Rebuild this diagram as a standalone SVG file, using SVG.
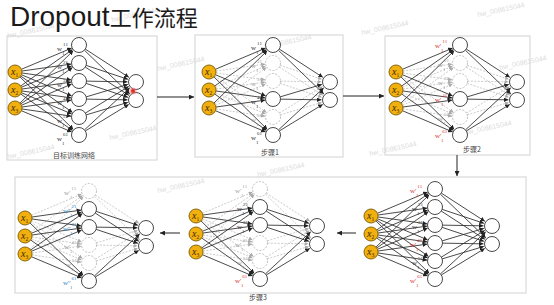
<svg xmlns="http://www.w3.org/2000/svg" xmlns:xlink="http://www.w3.org/1999/xlink" width="554" height="305" viewBox="0 0 554 305">
<style>
.title{font-family:"Liberation Sans","Noto Sans CJK SC",sans-serif;fill:#1a1a1a}
.panel{fill:none;stroke:#d2d2d2;stroke-width:1}
.cap{font-family:"Noto Sans CJK SC","Noto Sans",sans-serif;font-size:7px;fill:#444;text-anchor:middle}
.on{stroke:#2a2a2a;stroke-width:.85;marker-end:url(#ah)}
.off{stroke:#b4b4b4;stroke-width:.7;stroke-dasharray:2 1.4;marker-end:url(#ahg)}
.in circle{fill:#F2B00F;stroke:#7a5a00;stroke-width:.9}
.xl{font-family:"Liberation Serif",serif;font-style:italic;font-size:10px;fill:#3a2800}
.xs{font-size:5.5px;font-style:normal}
.hon circle,.out circle{fill:#fff;stroke:#333;stroke-width:.9}
.hoff circle{fill:#fff;stroke:#b0b0b0;stroke-width:.8;stroke-dasharray:2 1.4}
.wl{font-family:"Liberation Serif",serif;font-size:7px}
.s{font-size:5px}
.dk{fill:#333}.gy{fill:#a0a0a0}.rd{fill:#d8322c}.bl{fill:#2f86c8}
.flow{stroke:#222;stroke-width:1;fill:none;marker-end:url(#ah2)}
.wm{font-family:"Liberation Sans",sans-serif;font-size:7px;fill:#dcdcdc}
</style>
<defs>
<marker id="ah" viewBox="0 0 6 6" refX="6" refY="3" markerWidth="4.5" markerHeight="4.5" markerUnits="userSpaceOnUse" orient="auto"><path d="M0,0 L6,3 L0,6 z" fill="#222"/></marker>
<marker id="ahg" viewBox="0 0 6 6" refX="6" refY="3" markerWidth="4" markerHeight="4" markerUnits="userSpaceOnUse" orient="auto"><path d="M0,0 L6,3 L0,6 z" fill="#aaa"/></marker>
<marker id="ah2" viewBox="0 0 6 6" refX="6" refY="3" markerWidth="5" markerHeight="5" markerUnits="userSpaceOnUse" orient="auto"><path d="M0,0 L6,3 L0,6 z" fill="#222"/></marker>
<g id="in1"><line x1="6.45" y1="-2.72" x2="56.63" y2="-23.89"/><line x1="5.73" y1="13.97" x2="57.46" y2="-22.4"/><line x1="4.99" y1="31.09" x2="58.3" y2="-21.39"/></g>
<g id="in2"><line x1="6.93" y1="-0.97" x2="56.08" y2="-7.89"/><line x1="6.45" y1="15.28" x2="56.63" y2="-5.89"/><line x1="5.73" y1="31.97" x2="57.46" y2="-4.4"/></g>
<g id="in3"><line x1="6.93" y1="0.97" x2="56.08" y2="7.89"/><line x1="6.93" y1="17.03" x2="56.08" y2="10.11"/><line x1="6.45" y1="33.28" x2="56.63" y2="12.11"/></g>
<g id="in4"><line x1="6.45" y1="2.72" x2="56.63" y2="23.89"/><line x1="6.93" y1="18.97" x2="56.08" y2="25.89"/><line x1="6.93" y1="35.03" x2="56.08" y2="28.11"/></g>
<g id="in5"><line x1="5.73" y1="4.03" x2="57.46" y2="40.4"/><line x1="6.45" y1="20.72" x2="56.63" y2="41.89"/><line x1="6.93" y1="36.97" x2="56.08" y2="44.11"/></g>
<g id="in6"><line x1="4.99" y1="4.91" x2="58.3" y2="57.39"/><line x1="5.73" y1="22.03" x2="57.46" y2="58.4"/><line x1="6.45" y1="38.72" x2="56.63" y2="59.89"/></g>
<g id="out1"><line x1="70.29" y1="-22.92" x2="113.87" y2="5.37"/><line x1="69.4" y1="-21.79" x2="114.88" y2="22.1"/></g>
<g id="out2"><line x1="71.12" y1="-6.63" x2="112.93" y2="7.31"/><line x1="70.29" y1="-4.92" x2="113.87" y2="23.37"/></g>
<g id="out3"><line x1="71.5" y1="9.13" x2="112.5" y2="9.85"/><line x1="71.12" y1="11.37" x2="112.93" y2="25.31"/></g>
<g id="out4"><line x1="71.19" y1="24.86" x2="112.86" y2="12.43"/><line x1="71.5" y1="27.13" x2="112.5" y2="27.85"/></g>
<g id="out5"><line x1="70.39" y1="41.08" x2="113.76" y2="14.45"/><line x1="71.19" y1="42.86" x2="112.86" y2="30.43"/></g>
<g id="out6"><line x1="69.49" y1="57.89" x2="114.78" y2="15.79"/><line x1="70.39" y1="58.92" x2="113.76" y2="32.45"/></g>
</defs>
<rect width="554" height="305" fill="#fff"/>

<g id="watermarks" class="wm">
<text transform="translate(112,22) rotate(-12)">hw_008615044</text>
<text transform="translate(8,38) rotate(-12)">hw_008615044</text>
<text transform="translate(158,71) rotate(-12)">hw_008615044</text>
<text transform="translate(110,140) rotate(-12)">hw_008615044</text>
<text transform="translate(8,159) rotate(-12)">hw_008615044</text>
<text transform="translate(265,49) rotate(-12)">hw_008615044</text>
<text transform="translate(362,35) rotate(-12)">hw_008615044</text>
<text transform="translate(478,17) rotate(-12)">hw_008615044</text>
<text transform="translate(500,70) rotate(-12)">hw_008615044</text>
<text transform="translate(465,135) rotate(-12)">hw_008615044</text>
<text transform="translate(370,156) rotate(-12)">hw_008615044</text>
<text transform="translate(158,193) rotate(-12)">hw_008615044</text>
<text transform="translate(258,177) rotate(-12)">hw_008615044</text>
</g>

<text class="title" x="10" y="25.5"><tspan font-size="28">Dropout</tspan><tspan font-size="22" font-family="Noto Sans CJK SC, sans-serif">工作流程</tspan></text>

<g id="frames">
<rect class="panel" x="7" y="36" width="150" height="124"/>
<rect class="panel" x="195" y="35" width="148" height="122"/>
<rect class="panel" x="385" y="36" width="145" height="119"/>
<rect class="panel" x="15" y="177" width="511" height="116"/>
<text class="cap" x="74" y="158">目标训练网络</text>
<text class="cap" x="270" y="155">步骤1</text>
<text class="cap" x="472" y="152">步骤2</text>
<text class="cap" x="258" y="300">步骤3</text>
</g>

<g id="flow-connectors">
<line class="flow" x1="157" y1="97" x2="194" y2="97"/>
<line class="flow" x1="343" y1="96" x2="384" y2="96"/>
<line class="flow" x1="457" y1="155" x2="457" y2="176"/>
<line class="flow" x1="356" y1="233" x2="337" y2="233"/>
<line class="flow" x1="180" y1="233" x2="160" y2="233"/>
</g>

<!-- Panel 1: target network -->
<g id="net-target" transform="translate(15,72)">
<g id="target-connectors">
<use href="#in1" class="on"/><use href="#in2" class="on"/><use href="#in3" class="on"/><use href="#in4" class="on"/><use href="#in5" class="on"/><use href="#in6" class="on"/>
<use href="#out1" class="on"/><use href="#out2" class="on"/><use href="#out3" class="on"/><use href="#out4" class="on"/><use href="#out5" class="on"/><use href="#out6" class="on"/>
</g>
<g id="target-x1" class="in"><circle r="7"/><text class="xl" x="-4" y="3">x<tspan class="xs" dy="1.8">1</tspan></text></g>
<g id="target-x2" class="in"><circle cy="18" r="7"/><text class="xl" x="-4" y="21">x<tspan class="xs" dy="1.8">2</tspan></text></g>
<g id="target-x3" class="in"><circle cy="36" r="7"/><text class="xl" x="-4" y="39">x<tspan class="xs" dy="1.8">3</tspan></text></g>
<g id="target-h1" class="hon"><circle cx="64" cy="-27" r="7.5"/><text class="wl dk" x="42" y="-21">w<tspan class="s" dx="1" dy="-5">11</tspan><tspan class="s" x="47" dy="9">1</tspan></text></g>
<g id="target-h2" class="hon"><circle cx="64" cy="-9" r="7.5"/><text class="wl dk" x="42" y="-3">w<tspan class="s" dx="1" dy="-5">21</tspan><tspan class="s" x="47" dy="9">1</tspan></text></g>
<g id="target-h3" class="hon"><circle cx="64" cy="9" r="7.5"/><text class="wl dk" x="42" y="15">w<tspan class="s" dx="1" dy="-5">31</tspan><tspan class="s" x="47" dy="9">1</tspan></text></g>
<g id="target-h4" class="hon"><circle cx="64" cy="27" r="7.5"/><text class="wl dk" x="42" y="33">w<tspan class="s" dx="1" dy="-5">41</tspan><tspan class="s" x="47" dy="9">1</tspan></text></g>
<g id="target-h5" class="hon"><circle cx="64" cy="45" r="7.5"/><text class="wl dk" x="42" y="51">w<tspan class="s" dx="1" dy="-5">51</tspan><tspan class="s" x="47" dy="9">1</tspan></text></g>
<g id="target-h6" class="hon"><circle cx="64" cy="63" r="7.5"/><text class="wl dk" x="42" y="69">w<tspan class="s" dx="1" dy="-5">61</tspan><tspan class="s" x="47" dy="9">1</tspan></text></g>
<g id="target-o1" class="out"><circle cx="121" cy="10" r="7.5"/></g>
<g id="target-o2" class="out"><circle cx="121" cy="28" r="7.5"/></g>
<g id="target-mark"><circle cx="118" cy="19" r="3.6" fill="#f47a74" opacity=".5"/><circle cx="118" cy="19" r="2.1" fill="#e3302a"/></g>
</g>

<!-- Panel 2: step 1 -->
<g id="net-step1" transform="translate(209,72)">
<g id="step1-connectors">
<use href="#in2" class="off"/><use href="#in3" class="off"/><use href="#in5" class="off"/>
<use href="#out2" class="off"/><use href="#out3" class="off"/><use href="#out5" class="off"/>
<use href="#in1" class="on"/><use href="#in4" class="on"/><use href="#in6" class="on"/>
<use href="#out1" class="on"/><use href="#out4" class="on"/><use href="#out6" class="on"/>
</g>
<g id="step1-x1" class="in"><circle r="7"/><text class="xl" x="-4" y="3">x<tspan class="xs" dy="1.8">1</tspan></text></g>
<g id="step1-x2" class="in"><circle cy="18" r="7"/><text class="xl" x="-4" y="21">x<tspan class="xs" dy="1.8">2</tspan></text></g>
<g id="step1-x3" class="in"><circle cy="36" r="7"/><text class="xl" x="-4" y="39">x<tspan class="xs" dy="1.8">3</tspan></text></g>
<g id="step1-h1" class="hon"><circle cx="64" cy="-27" r="7.5"/><text class="wl dk" x="42" y="-22">w<tspan class="s" dx="1" dy="-5">11</tspan><tspan class="s" x="47" dy="9">1</tspan></text></g>
<g id="step1-h2" class="hoff"><circle cx="64" cy="-9" r="7.5"/><text class="wl gy" x="42" y="-4">w<tspan class="s" dx="1" dy="-5">21</tspan><tspan class="s" x="47" dy="9">1</tspan></text></g>
<g id="step1-h3" class="hoff"><circle cx="64" cy="9" r="7.5"/><text class="wl gy" x="42" y="14">w<tspan class="s" dx="1" dy="-5">31</tspan><tspan class="s" x="47" dy="9">1</tspan></text></g>
<g id="step1-h4" class="hon"><circle cx="64" cy="27" r="7.5"/><text class="wl dk" x="42" y="32">w<tspan class="s" dx="1" dy="-5">41</tspan><tspan class="s" x="47" dy="9">1</tspan></text></g>
<g id="step1-h5" class="hoff"><circle cx="64" cy="45" r="7.5"/><text class="wl gy" x="42" y="50">w<tspan class="s" dx="1" dy="-5">51</tspan><tspan class="s" x="47" dy="9">1</tspan></text></g>
<g id="step1-h6" class="hon"><circle cx="64" cy="63" r="7.5"/><text class="wl dk" x="42" y="68">w<tspan class="s" dx="1" dy="-5">61</tspan><tspan class="s" x="47" dy="9">1</tspan></text></g>
<g id="step1-o1" class="out"><circle cx="121" cy="10" r="7.5"/></g>
<g id="step1-o2" class="out"><circle cx="121" cy="28" r="7.5"/></g>
</g>

<!-- Panel 3: step 2 -->
<g id="net-step2" transform="translate(396,72)">
<g id="step2-connectors">
<use href="#in2" class="off"/><use href="#in3" class="off"/><use href="#in5" class="off"/>
<use href="#out2" class="off"/><use href="#out3" class="off"/><use href="#out5" class="off"/>
<use href="#in1" class="on"/><use href="#in4" class="on"/><use href="#in6" class="on"/>
<use href="#out1" class="on"/><use href="#out4" class="on"/><use href="#out6" class="on"/>
</g>
<g id="step2-x1" class="in"><circle r="7"/><text class="xl" x="-4" y="3">x<tspan class="xs" dy="1.8">1</tspan></text></g>
<g id="step2-x2" class="in"><circle cy="18" r="7"/><text class="xl" x="-4" y="21">x<tspan class="xs" dy="1.8">2</tspan></text></g>
<g id="step2-x3" class="in"><circle cy="36" r="7"/><text class="xl" x="-4" y="39">x<tspan class="xs" dy="1.8">3</tspan></text></g>
<g id="step2-h1" class="hon"><circle cx="64" cy="-27" r="7.5"/><text class="wl rd" x="39" y="-24">w'<tspan class="s" dx="1" dy="-5">11</tspan><tspan class="s" x="45" dy="9">1</tspan></text></g>
<g id="step2-h2" class="hoff"><circle cx="64" cy="-9" r="7.5"/><text class="wl gy" x="42" y="-5">w<tspan class="s" dx="1" dy="-5">21</tspan><tspan class="s" x="47" dy="9">1</tspan></text></g>
<g id="step2-h3" class="hoff"><circle cx="64" cy="9" r="7.5"/><text class="wl gy" x="42" y="13">w<tspan class="s" dx="1" dy="-5">31</tspan><tspan class="s" x="47" dy="9">1</tspan></text></g>
<g id="step2-h4" class="hon"><circle cx="64" cy="27" r="7.5"/><text class="wl rd" x="39" y="30">w'<tspan class="s" dx="1" dy="-5">41</tspan><tspan class="s" x="45" dy="9">1</tspan></text></g>
<g id="step2-h5" class="hoff"><circle cx="64" cy="45" r="7.5"/><text class="wl gy" x="42" y="49">w<tspan class="s" dx="1" dy="-5">51</tspan><tspan class="s" x="47" dy="9">1</tspan></text></g>
<g id="step2-h6" class="hon"><circle cx="64" cy="63" r="7.5"/><text class="wl rd" x="39" y="66">w'<tspan class="s" dx="1" dy="-5">61</tspan><tspan class="s" x="45" dy="9">1</tspan></text></g>
<g id="step2-o1" class="out"><circle cx="121" cy="10" r="7.5"/></g>
<g id="step2-o2" class="out"><circle cx="121" cy="28" r="7.5"/></g>
</g>

<!-- Step 3a: updated full network -->
<g id="net-step3a" transform="translate(371,216)">
<g id="step3a-connectors">
<use href="#in1" class="on"/><use href="#in2" class="on"/><use href="#in3" class="on"/><use href="#in4" class="on"/><use href="#in5" class="on"/><use href="#in6" class="on"/>
<use href="#out1" class="on"/><use href="#out2" class="on"/><use href="#out3" class="on"/><use href="#out4" class="on"/><use href="#out5" class="on"/><use href="#out6" class="on"/>
</g>
<g id="step3a-x1" class="in"><circle r="7"/><text class="xl" x="-4" y="3">x<tspan class="xs" dy="1.8">1</tspan></text></g>
<g id="step3a-x2" class="in"><circle cy="18" r="7"/><text class="xl" x="-4" y="21">x<tspan class="xs" dy="1.8">2</tspan></text></g>
<g id="step3a-x3" class="in"><circle cy="36" r="7"/><text class="xl" x="-4" y="39">x<tspan class="xs" dy="1.8">3</tspan></text></g>
<g id="step3a-h1" class="hon"><circle cx="64" cy="-27" r="7.5"/><text class="wl rd" x="39" y="-23">w'<tspan class="s" dx="1" dy="-5">11</tspan><tspan class="s" x="45" dy="9">1</tspan></text></g>
<g id="step3a-h2" class="hon"><circle cx="64" cy="-9" r="7.5"/><text class="wl dk" x="41" y="-5">w<tspan class="s" dx="1" dy="-5">21</tspan><tspan class="s" x="46" dy="9">1</tspan></text></g>
<g id="step3a-h3" class="hon"><circle cx="64" cy="9" r="7.5"/><text class="wl dk" x="41" y="13">w<tspan class="s" dx="1" dy="-5">31</tspan><tspan class="s" x="46" dy="9">1</tspan></text></g>
<g id="step3a-h4" class="hon"><circle cx="64" cy="27" r="7.5"/><text class="wl rd" x="39" y="31">w'<tspan class="s" dx="1" dy="-5">41</tspan><tspan class="s" x="45" dy="9">1</tspan></text></g>
<g id="step3a-h5" class="hon"><circle cx="64" cy="45" r="7.5"/><text class="wl dk" x="41" y="49">w<tspan class="s" dx="1" dy="-5">51</tspan><tspan class="s" x="46" dy="9">1</tspan></text></g>
<g id="step3a-h6" class="hon"><circle cx="64" cy="63" r="7.5"/><text class="wl rd" x="39" y="67">w'<tspan class="s" dx="1" dy="-5">61</tspan><tspan class="s" x="45" dy="9">1</tspan></text></g>
<g id="step3a-o1" class="out"><circle cx="121" cy="10" r="7.5"/></g>
<g id="step3a-o2" class="out"><circle cx="121" cy="28" r="7.5"/></g>
</g>

<!-- Step 3b: new dropout -->
<g id="net-step3b" transform="translate(196,216)">
<g id="step3b-connectors">
<use href="#in1" class="off"/><use href="#in4" class="off"/><use href="#in5" class="off"/>
<use href="#out1" class="off"/><use href="#out4" class="off"/><use href="#out5" class="off"/>
<use href="#in2" class="on"/><use href="#in3" class="on"/><use href="#in6" class="on"/>
<use href="#out2" class="on"/><use href="#out3" class="on"/><use href="#out6" class="on"/>
</g>
<g id="step3b-x1" class="in"><circle r="7"/><text class="xl" x="-4" y="3">x<tspan class="xs" dy="1.8">1</tspan></text></g>
<g id="step3b-x2" class="in"><circle cy="18" r="7"/><text class="xl" x="-4" y="21">x<tspan class="xs" dy="1.8">2</tspan></text></g>
<g id="step3b-x3" class="in"><circle cy="36" r="7"/><text class="xl" x="-4" y="39">x<tspan class="xs" dy="1.8">3</tspan></text></g>
<g id="step3b-h1" class="hoff"><circle cx="64" cy="-27" r="7.5"/><text class="wl gy" x="39" y="-23">w'<tspan class="s" dx="1" dy="-5">11</tspan><tspan class="s" x="45" dy="9">1</tspan></text></g>
<g id="step3b-h2" class="hon"><circle cx="64" cy="-9" r="7.5"/><text class="wl dk" x="41" y="-5">w<tspan class="s" dx="1" dy="-5">21</tspan><tspan class="s" x="46" dy="9">1</tspan></text></g>
<g id="step3b-h3" class="hon"><circle cx="64" cy="9" r="7.5"/><text class="wl dk" x="41" y="13">w<tspan class="s" dx="1" dy="-5">31</tspan><tspan class="s" x="46" dy="9">1</tspan></text></g>
<g id="step3b-h4" class="hoff"><circle cx="64" cy="27" r="7.5"/><text class="wl gy" x="39" y="31">w'<tspan class="s" dx="1" dy="-5">41</tspan><tspan class="s" x="45" dy="9">1</tspan></text></g>
<g id="step3b-h5" class="hoff"><circle cx="64" cy="45" r="7.5"/><text class="wl gy" x="41" y="49">w<tspan class="s" dx="1" dy="-5">51</tspan><tspan class="s" x="46" dy="9">1</tspan></text></g>
<g id="step3b-h6" class="hon"><circle cx="64" cy="63" r="7.5"/><text class="wl rd" x="39" y="67">w'<tspan class="s" dx="1" dy="-5">61</tspan><tspan class="s" x="45" dy="9">1</tspan></text></g>
<g id="step3b-o1" class="out"><circle cx="121" cy="10" r="7.5"/></g>
<g id="step3b-o2" class="out"><circle cx="121" cy="28" r="7.5"/></g>
</g>

<!-- Step 3c: second update -->
<g id="net-step3c" transform="translate(25,218)">
<g id="step3c-connectors">
<use href="#in1" class="off"/><use href="#in4" class="off"/><use href="#in5" class="off"/>
<use href="#out1" class="off"/><use href="#out4" class="off"/><use href="#out5" class="off"/>
<use href="#in2" class="on"/><use href="#in3" class="on"/><use href="#in6" class="on"/>
<use href="#out2" class="on"/><use href="#out3" class="on"/><use href="#out6" class="on"/>
</g>
<g id="step3c-x1" class="in"><circle r="7"/><text class="xl" x="-4" y="3">x<tspan class="xs" dy="1.8">1</tspan></text></g>
<g id="step3c-x2" class="in"><circle cy="18" r="7"/><text class="xl" x="-4" y="21">x<tspan class="xs" dy="1.8">2</tspan></text></g>
<g id="step3c-x3" class="in"><circle cy="36" r="7"/><text class="xl" x="-4" y="39">x<tspan class="xs" dy="1.8">3</tspan></text></g>
<g id="step3c-h1" class="hoff"><circle cx="64" cy="-27" r="7.5"/><text class="wl gy" x="39" y="-23">w'<tspan class="s" dx="1" dy="-5">11</tspan><tspan class="s" x="45" dy="9">1</tspan></text></g>
<g id="step3c-h2" class="hon"><circle cx="64" cy="-9" r="7.5"/><text class="wl bl" x="38" y="-5">w''<tspan class="s" dx="1" dy="-5">21</tspan><tspan class="s" x="45" dy="9">1</tspan></text></g>
<g id="step3c-h3" class="hon"><circle cx="64" cy="9" r="7.5"/><text class="wl bl" x="38" y="13">w''<tspan class="s" dx="1" dy="-5">31</tspan><tspan class="s" x="45" dy="9">1</tspan></text></g>
<g id="step3c-h4" class="hoff"><circle cx="64" cy="27" r="7.5"/><text class="wl gy" x="39" y="31">w'<tspan class="s" dx="1" dy="-5">41</tspan><tspan class="s" x="45" dy="9">1</tspan></text></g>
<g id="step3c-h5" class="hoff"><circle cx="64" cy="45" r="7.5"/><text class="wl gy" x="41" y="49">w<tspan class="s" dx="1" dy="-5">51</tspan><tspan class="s" x="46" dy="9">1</tspan></text></g>
<g id="step3c-h6" class="hon"><circle cx="64" cy="63" r="7.5"/><text class="wl bl" x="38" y="67">w''<tspan class="s" dx="1" dy="-5">61</tspan><tspan class="s" x="45" dy="9">1</tspan></text></g>
<g id="step3c-o1" class="out"><circle cx="121" cy="10" r="7.5"/></g>
<g id="step3c-o2" class="out"><circle cx="121" cy="28" r="7.5"/></g>
</g>
</svg>
